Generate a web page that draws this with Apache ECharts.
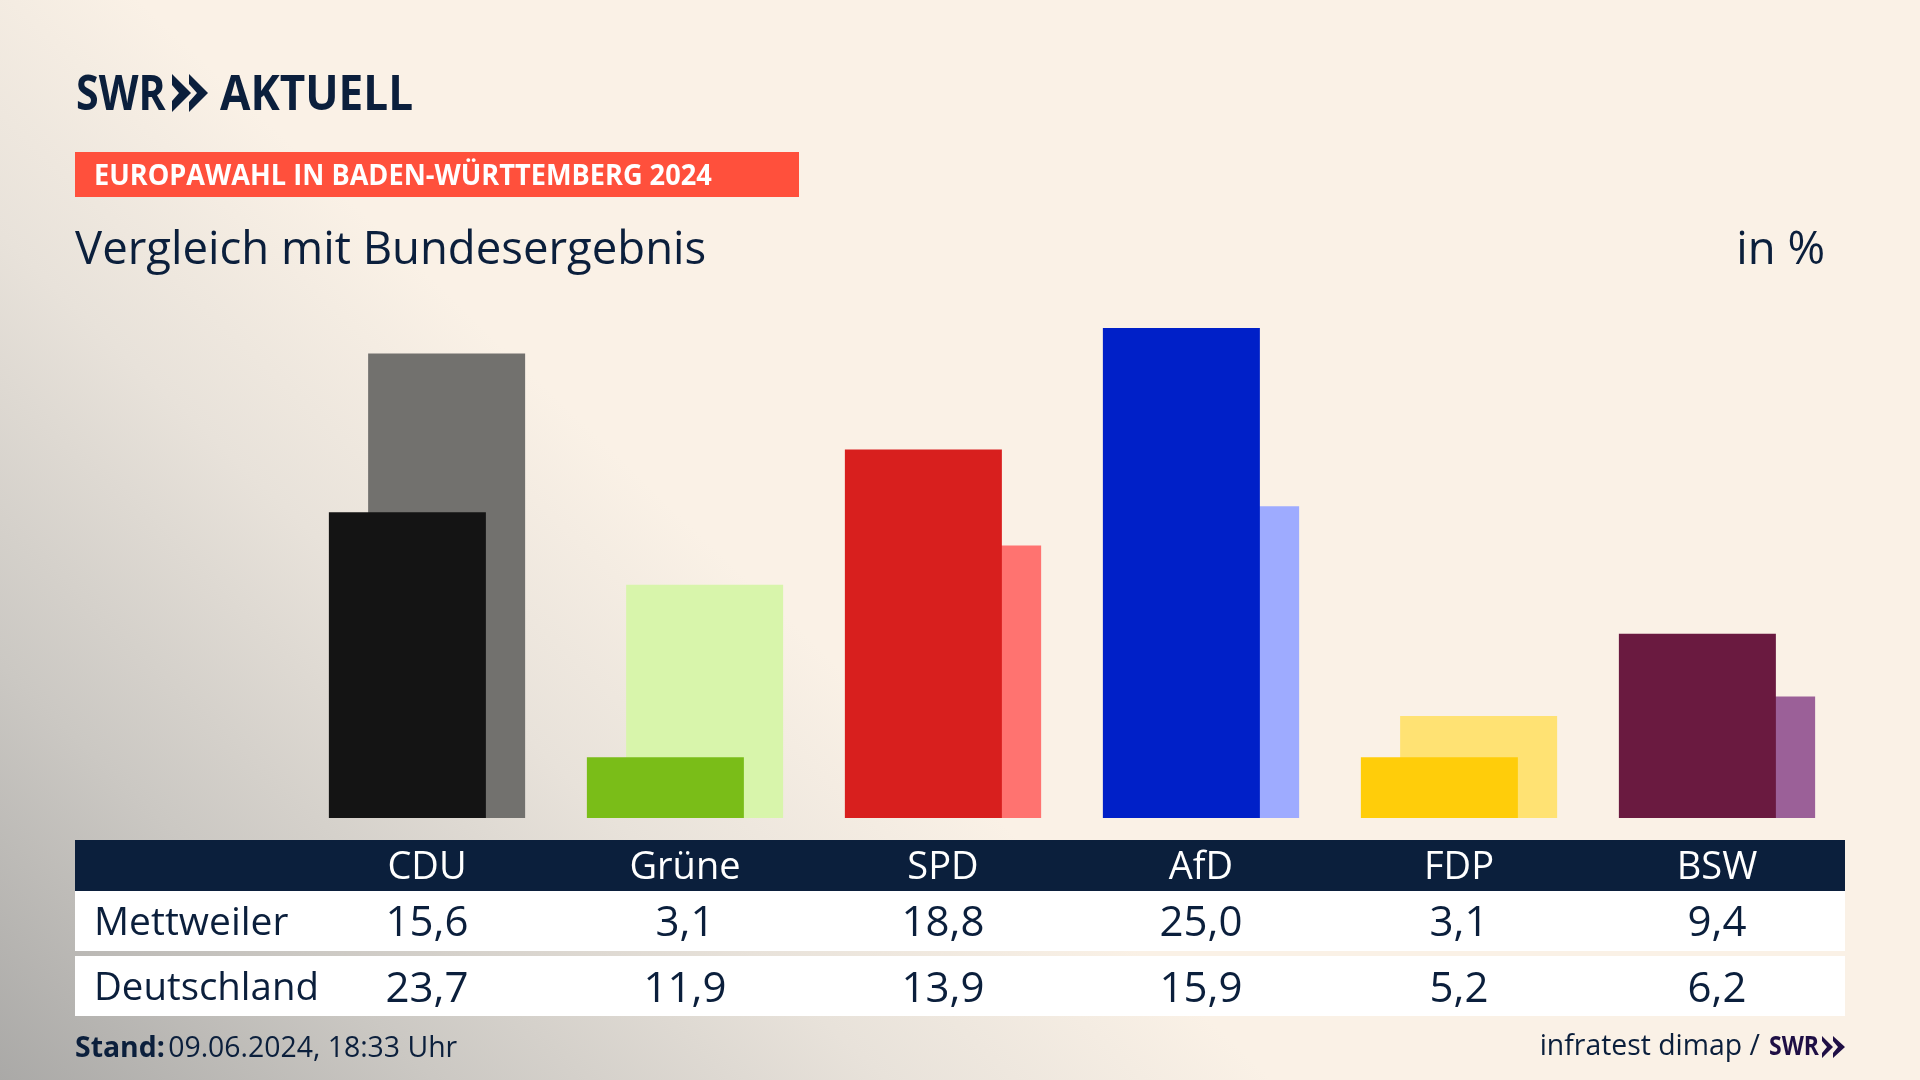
<!DOCTYPE html>
<html><head><meta charset="utf-8">
<style>html,body{margin:0;padding:0;background:#faf1e6}#c{width:1920px;height:1080px}</style>
<script src="https://cdn.jsdelivr.net/npm/echarts@6/dist/echarts.min.js"></script>
</head><body><div id="c"></div>
<script>
const categories = ['CDU','Grüne','SPD','AfD','FDP','BSW'];
const mettweiler = [15.6,3.1,18.8,25.0,3.1,9.4];
const deutschland = [23.7,11.9,13.9,15.9,5.2,6.2];
const frontColors = ['#141414','#7abd18','#d81f1e','#0020c8','#ffcd0a','#6a1a40'];
const backColors = ['#72716e','#d8f5ab','#ff7370','#9eabff','#ffe273','#9b6098'];
const navy = '#0b1f3c';
const font = '"Open Sans"';
const fmt = v => v.toFixed(1).replace('.', ',');
const chart = echarts.init(document.getElementById('c'), null, {renderer:'canvas'});
const rowAxis = (data, offset, color, size) => ({
  type:'category', data, position:'bottom', offset, gridIndex:0,
  axisLine:{show:false}, axisTick:{show:false}, splitLine:{show:false},
  axisLabel:{show:true, interval:0, margin:0, verticalAlign:'middle', color, fontFamily:font, fontSize:size}
});
const txt = (x,y,text,size,color,extra={},scaleX=1) => ({type:'text', x, y, scaleX, style:Object.assign({text, fontFamily:font, fontSize:size, fill:color, verticalAlign:'middle'},extra)});
chart.setOption({
  animation:false,
  backgroundColor:new echarts.graphic.LinearGradient(140,0,-473,643,[
    {offset:0,color:'#faf1e6'},{offset:0.3,color:'#e8e2da'},{offset:0.65,color:'#cbc8c3'},{offset:1,color:'#a9a8a6'}],true),
  grid:{left:298,right:74,top:230,bottom:262,containLabel:false},
  xAxis:[
    rowAxis(categories,50,'#ffffff',38),
    rowAxis(mettweiler.map(fmt),106,navy,42),
    rowAxis(deutschland.map(fmt),172,navy,42)
  ],
  yAxis:{type:'value',min:0,max:30,show:false},
  series:[
    {name:'Mettweiler',type:'bar',xAxisIndex:0,z:3,barWidth:157,barGap:'-75%',data:mettweiler,
     itemStyle:{color:p=>frontColors[p.dataIndex]}},
    {name:'Deutschland',type:'bar',xAxisIndex:0,z:2,barWidth:157,barGap:'-75%',data:deutschland,
     itemStyle:{color:p=>backColors[p.dataIndex]}}
  ],
  graphic:{z:-10,elements:[
    {type:'rect',shape:{x:75,y:840,width:1770,height:51},style:{fill:navy}},
    {type:'rect',shape:{x:75,y:891,width:1770,height:60},style:{fill:'#fff'}},
    {type:'rect',shape:{x:75,y:956,width:1770,height:60},style:{fill:'#fff'}},
    {type:'rect',shape:{x:75,y:152,width:724,height:45},style:{fill:'#ff503c'}},
    txt(94,177,'EUROPAWAHL IN BADEN-WÜRTTEMBERG 2024',28,'#fff',{fontWeight:'bold'},0.97),
    txt(75,251,'Vergleich mit Bundesergebnis',45.5,navy),
    txt(1825,251,'in %',45.5,navy,{textAlign:'right'}),
    txt(94,924,'Mettweiler',39,navy),
    txt(94,989,'Deutschland',38.4,navy),
    {type:'text',x:75,y:1049,style:{rich:{b:{fontFamily:font,fontWeight:'bold',fontSize:28.4,fill:navy},r:{fontFamily:font,fontSize:28.4,fill:navy}},text:'{b|Stand:} {r|09.06.2024, 18:33 Uhr}',verticalAlign:'middle'}},
    txt(1760,1047,'infratest dimap /',28.4,navy,{textAlign:'right'}),
    txt(1769,1047,'SWR',27,'#1f0f45',{fontWeight:'bold'},0.85),
    txt(76,96,'SWR',49,navy,{fontWeight:'bold'},0.84),
    txt(220,96,'AKTUELL',49,navy,{fontWeight:'bold'},0.9),
    {type:'polygon',shape:{points:[[172,74],[191,93],[172,112],[172,101],[179,93],[172,85]]},style:{fill:navy}},
    {type:'polygon',shape:{points:[[189,74],[208,93],[189,112],[189,102],[197,93],[189,84]]},style:{fill:navy}},
    {type:'polygon',shape:{points:[[1822,1036],[1833,1047],[1822,1058],[1822,1053],[1827,1047],[1822,1041]]},style:{fill:'#1f0f45'}},
    {type:'polygon',shape:{points:[[1833,1036],[1845,1047],[1833,1058],[1833,1053],[1838,1047],[1833,1041]]},style:{fill:'#1f0f45'}}
  ]}
});
</script></body></html>
